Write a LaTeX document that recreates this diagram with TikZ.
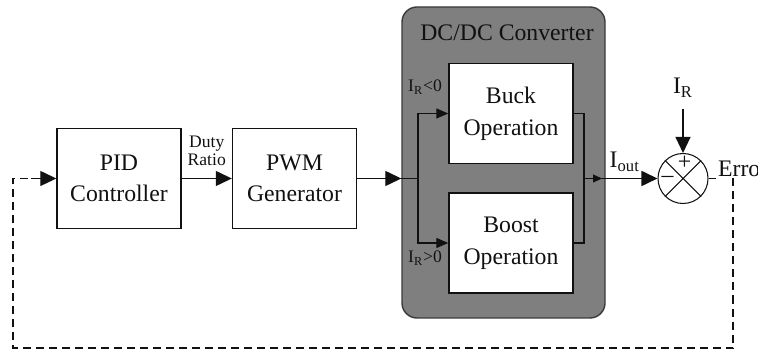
\documentclass[tikz,border=0pt]{standalone}
\usepackage{fontspec}
\setmainfont{Liberation Serif}
\usetikzlibrary{positioning,calc,arrows.meta}
\definecolor{cConv}{HTML}{7F7F7F}
\definecolor{cConvEdge}{HTML}{3A3A3A}
\definecolor{cInk}{HTML}{111111}
\tikzset{
  block/.style={draw=cInk, fill=white, line width=0.8pt, minimum width=2.48cm,
    minimum height=2.0cm, align=center, text=cInk, font=\fontsize{13.5}{18}\selectfont},
  conv/.style={draw=cConvEdge, fill=cConv, line width=0.8pt, rounded corners=0.3cm,
    minimum width=4.06cm, minimum height=6.22cm},
  sumnode/.style={circle, draw=cInk, line width=0.6pt, minimum size=1.0cm, inner sep=0pt},
  arrow/.style={-{Triangle[length=0.32cm,width=0.3cm]}, line width=0.7pt, color=cInk},
  smallarrow/.style={-{Triangle[length=0.24cm,width=0.2cm]}, line width=0.7pt, color=cInk},
  tinyarrow/.style={-{Triangle[length=0.18cm,width=0.16cm]}, line width=0.7pt, color=cInk},
  feedback/.style={dash pattern=on 0.16cm off 0.1cm, line width=0.7pt, color=cInk},
  lbl/.style={font=\fontsize{13.5}{16}\selectfont, text=cInk},
  smalllbl/.style={font=\fontsize{10}{10.5}\selectfont, text=cInk, align=center},
}

\begin{document}
\begin{tikzpicture}
  \useasboundingbox (0,0) rectangle (15.16,7.08);

  % ---------- converter ----------
  \node[conv] (conv) at (10.07,3.83) {};
  \node[lbl] (title) at (10.14,6.42) {DC/DC Converter};
  \node[block] (buck) at (10.22,4.81) {Buck\\Operation};
  \node[block] (boost) at (10.22,2.22) {Boost\\Operation};
  \node[smalllbl] (ineg) at (8.5,5.34) {I\textsubscript{R}<0};
  \node[smalllbl] (ipos) at (8.5,1.92) {I\textsubscript{R}>0};

  % ---------- blocks ----------
  \node[block] (pid) at (2.38,3.51) {PID\\Controller};
  \node[block] (pwm) at (5.89,3.51) {PWM\\Generator};
  \node[sumnode] (sum) at (13.66,3.51) {};
  \draw[cInk, line width=0.6pt] (sum.north west) -- (sum.south east)
                                (sum.north east) -- (sum.south west);
  \node[lbl, inner sep=0pt] (plus) at (13.69,3.83) {+};
  \node[lbl, inner sep=0pt] (minus) at (13.35,3.5) {–};
  \node[lbl] (iref) at (13.66,5.32) {I\textsubscript{R}};
  \node[lbl, fill=white, inner sep=1pt, anchor=south west] (err) at (14.32,3.5) {Error};

  % ---------- junctions ----------
  \coordinate (split) at (8.36,3.51);
  \coordinate (join) at (11.68,3.51);
  \coordinate (errend) at (14.66,3.51);
  \coordinate (fbR) at (14.66,0.12);
  \coordinate (fbL) at (0.26,0.12);

  % ---------- arrows ----------
  \draw[arrow] (pid) -- node[smalllbl, above=0.12cm] {Duty\\Ratio} (pwm);
  \draw[arrow] (pwm) -- (conv.west |- pwm);
  \draw[cInk, line width=0.7pt] (conv.west |- pwm) -- (split);
  \draw[smallarrow] (split) |- (buck.west);
  \draw[smallarrow] (split) |- (boost.west);
  \draw[cInk, line width=0.7pt] (buck.east) -| (join) |- (boost.east);
  \draw[tinyarrow] (join) -- ++(0.36,0);
  \draw[arrow, line width=1pt] (join) -- node[lbl, above, xshift=0.08cm] {I\textsubscript{out}} (sum.west);
  \draw[arrow] ($(iref.south)+(0,-0.1)$) -- (sum.north);
  \draw[cInk, line width=0.7pt] (sum.east) -- (err.south west |- sum.east);
  \draw[feedback] (errend) -- (fbR) -- (fbL) |- ($(pid.west)+(-0.5,0)$);
  \draw[arrow] ($(pid.west)+(-0.5,0)$) -- (pid.west);

\end{tikzpicture}
\end{document}
